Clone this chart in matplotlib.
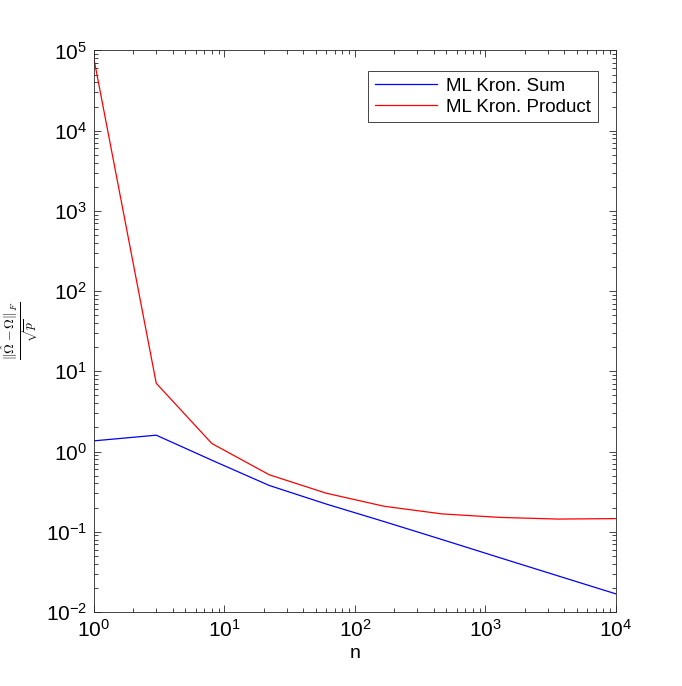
import matplotlib
matplotlib.use('Agg')
import matplotlib.pyplot as plt

# sample sizes and errors
n = [1, 3, 8, 22, 60, 167, 464, 1292, 3594, 10000]
err_sum = [1.36, 1.60, 0.78, 0.378, 0.222, 0.134, 0.080, 0.0474, 0.0282, 0.0168]
err_prod = [7.8e4, 7.1, 1.26, 0.514, 0.303, 0.208, 0.167, 0.151, 0.144, 0.146]

plt.rcParams['font.family'] = ['Liberation Sans', 'DejaVu Sans']
plt.rcParams['mathtext.fontset'] = 'cm'

fig = plt.figure(figsize=(6.82, 6.86), dpi=100)
ax = fig.add_axes([0.1378, 0.1079, 0.7654, 0.8185])

ax.plot(n, err_sum, color='blue', lw=0.9, label='ML Kron. Sum')
ax.plot(n, err_prod, color='red', lw=0.9, label='ML Kron. Product')

ax.set_xscale('log')
ax.set_yscale('log')
ax.set_xlim(1, 1e4)
ax.set_ylim(1e-2, 1e5)
ax.set_xticks([1, 10, 100, 1000, 10000])
ax.set_yticks([1e-2, 1e-1, 1, 10, 100, 1e3, 1e4, 1e5])

ax.tick_params(which='both', direction='in', top=True, right=True,
               labelsize=15, color='#262626', width=0.6)
ax.tick_params(which='major', length=5, pad=5)
ax.tick_params(which='minor', length=3)
for s in ax.spines.values():
    s.set_linewidth(0.6)
    s.set_color('#262626')

ax.set_xlabel('n', fontsize=14, labelpad=3)
ax.set_ylabel(r'$\frac{\|\hat{\Omega}-\Omega\|_F}{\sqrt{p}}$', fontsize=14)
ax.yaxis.set_label_coords(-0.102, 0.5)

leg = ax.legend(loc='upper right', bbox_to_anchor=(0.965, 0.963), fontsize=13.5,
                fancybox=False, edgecolor='#262626', framealpha=1,
                handlelength=3.3, borderpad=0.35, labelspacing=0.2,
                handletextpad=0.5, borderaxespad=0)
leg.get_frame().set_linewidth(0.6)

fig.savefig('out.png', dpi=100)
